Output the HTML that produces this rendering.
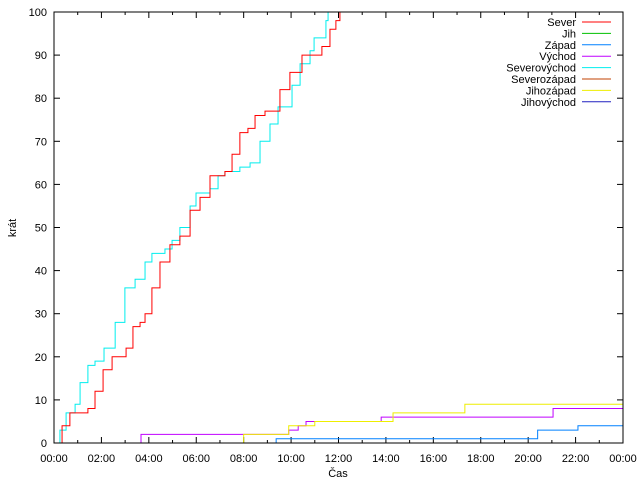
<!DOCTYPE html>
<html><head><meta charset="utf-8"><style>
body{margin:0;background:#fff}
svg text{font-family:"Liberation Sans",sans-serif;font-size:11px;fill:#000}
</style></head><body>
<svg id="chart" width="640" height="480" xmlns="http://www.w3.org/2000/svg">
<rect x="0" y="0" width="640" height="480" fill="#fff"/>
<g id="grid"></g>
<g id="series"></g>
<rect x="54" y="12" width="569" height="431" fill="none" stroke="#000" stroke-width="1"/>
<text x="338" y="477" text-anchor="middle">Čas</text>
<text transform="translate(16,228) rotate(-90)" text-anchor="middle">krát</text>
<g id="legend"></g>
</svg>
<script>
const seriesNames = ["Sever","Jih","Západ","Východ","Severovýchod","Severozápad","Jihozápad","Jihovýchod"];
const seriesColors = ["#ff0000","#00c000","#0080ff","#c000ff","#00eeee","#c04000","#eeee00","#2020c0"];
const severHours = [0,0.34,0.67,1.31,1.43,1.73,2.07,2.45,2.78,3.04,3.33,3.63,3.84,4.13,4.47,4.89,5.31,5.74,6.16,6.58,7.21,7.51,7.84,8.18,8.48,8.90,9.24,9.53,9.95,10.29,10.46,11.05,11.30,11.64,11.89,12.06];
const severValues = [0,4,7,7,8,12,17,20,20,22,27,28,30,36,42,46,48,54,57,62,63,67,72,73,76,77,77,82,86,86,90,90,92,96,98,100];
const severovychodHours = [0,0.25,0.51,0.89,1.10,1.43,1.73,2.11,2.58,2.99,3.42,3.84,4.13,4.68,4.98,5.31,5.74,5.99,6.58,6.92,7.21,7.63,7.84,8.27,8.69,9.11,9.45,9.78,10.04,10.38,10.80,10.97,11.22,11.47,11.56];
const severovychodValues = [0,3,7,9,14,18,19,22,28,36,38,42,44,45,47,50,55,58,59,62,63,63,64,65,70,74,78,78,83,88,91,94,94,98,100];
const vychodHours = [3.67,9.9,10.3,10.63,13.8,21.05];
const vychodValues = [2,3,4,5,6,8];
const jihozapadHours = [8.0,9.9,11.0,14.3,17.33];
const jihozapadValues = [2,4,5,7,9];
const zapadHours = [9.37,20.4,22.1];
const zapadValues = [1,3,4];
const xTickLabels = ["00:00","02:00","04:00","06:00","08:00","10:00","12:00","14:00","16:00","18:00","20:00","22:00","00:00"];
const yTickLabels = ["0","10","20","30","40","50","60","70","80","90","100"];

const X0=54,X1=623,Y0=443,Y1=12;
function xs(h){return X0+(X1-X0)*h/24;}
function ys(v){return Y0-(Y0-Y1)*v/100;}
const NS="http://www.w3.org/2000/svg";
const grid=document.getElementById('grid');
function mk(tag,attrs,parent){const e=document.createElementNS(NS,tag);for(const k in attrs)e.setAttribute(k,attrs[k]);parent.appendChild(e);return e;}

yTickLabels.forEach((lab,i)=>{
  const v=i*10,y=ys(v);
  const t1=mk('line',{x1:X0,x2:X0+6,y1:y,y2:y,stroke:'#000'},grid);
  
  
  const t2=mk('line',{x1:X1-6,x2:X1,y1:y,y2:y,stroke:'#000'},grid);
  
  
  const t=mk('text',{x:47,y:y+4,'text-anchor':'end'},grid);
  t.textContent=lab;
  
  
});
for(let h=0;h<=24;h++){
  const x=xs(h),len=(h%2===0)?6:3;
  const a=mk('line',{x1:x,x2:x,y1:Y0,y2:Y0-len,stroke:'#000'},grid);
  
  
  const b=mk('line',{x1:x,x2:x,y1:Y1,y2:Y1+len,stroke:'#000'},grid);
  
  
}
xTickLabels.forEach((lab,i)=>{
  const t=mk('text',{x:xs(i*2),y:462,'text-anchor':'middle'},grid);
  t.textContent=lab;
  
  
});

const sg=document.getElementById('series');
function stepPath(hours,vals,startZero,name,color){
  let d='';
  let prev=0;
  hours.forEach((h,i)=>{
    const x=xs(h);
    if(i===0){ d+='M'+x+','+ys(startZero?0:vals[0]); }
    else d+='L'+x+','+ys(prev);
    d+='L'+x+','+ys(vals[i]);
    prev=vals[i];
  });
  if(hours[hours.length-1]<24 && prev<100) d+='L'+xs(24)+','+ys(prev);
  const p=mk('path',{d:d,fill:'none',stroke:color,'stroke-width':1},sg);
  
  
}
stepPath(zapadHours,zapadValues,true,'line-zapad',seriesColors[2]);
stepPath(vychodHours,vychodValues,true,'line-vychod',seriesColors[3]);
stepPath(jihozapadHours,jihozapadValues,true,'line-jihozapad',seriesColors[6]);
stepPath(severovychodHours,severovychodValues,true,'line-severovychod',seriesColors[4]);
stepPath(severHours,severValues,true,'line-sever',seriesColors[0]);

const lg=document.getElementById('legend');
seriesNames.forEach((n,i)=>{
  const y=22+i*11.4;
  const t=mk('text',{x:576,y:y+4,'text-anchor':'end'},lg);
  t.textContent=n;
  
  
  const l=mk('line',{x1:582,x2:611,y1:y,y2:y,stroke:seriesColors[i]},lg);
  
  
});
</script>
</body></html>
